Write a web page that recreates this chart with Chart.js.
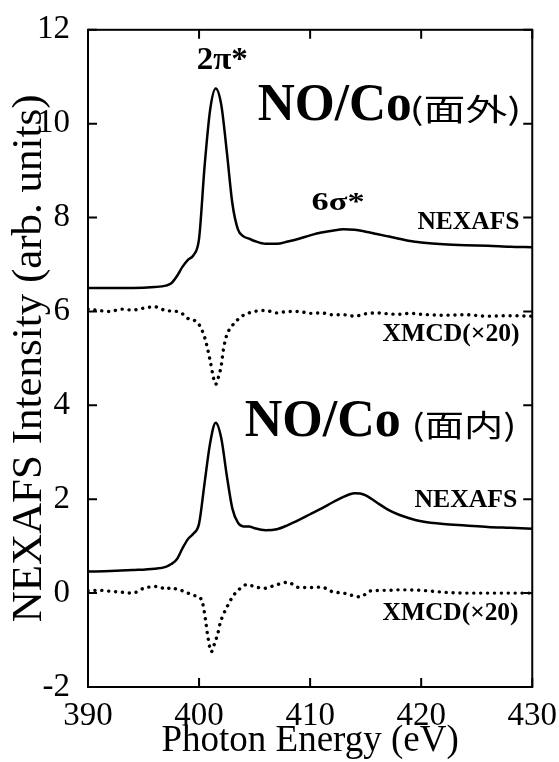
<!DOCTYPE html>
<html>
<head>
<meta charset="utf-8">
<script src="https://cdn.jsdelivr.net/npm/chart.js@4.4.1/dist/chart.umd.min.js"></script>
<style>
  html, body { margin: 0; padding: 0; background: #fff; }
  #wrap { width: 559px; height: 762px; position: relative; }
</style>
</head>
<body>
<div id="wrap"><canvas id="chart"></canvas></div>
<script>
// x tick / y tick labels
const xTicks = [390, 400, 410, 420, 430];
const yTicks = [-2, 0, 2, 4, 6, 8, 10, 12];

// NO/Co 面外 NEXAFS
const outNexafsE = [390, 392, 394, 396, 397, 397.5, 398, 398.5, 399, 399.5, 400, 400.5, 401, 401.5, 402, 402.5, 403, 403.5, 404, 404.5, 405, 406, 407, 408, 409, 410, 411, 412, 413, 414, 415, 416, 417, 418, 419, 420, 422, 424, 426, 428, 430];
const outNexafs = [6.5, 6.5, 6.5, 6.52, 6.55, 6.6, 6.75, 6.95, 7.1, 7.2, 7.55, 9.1, 10.3, 10.75, 10.4, 9.4, 8.3, 7.75, 7.6, 7.55, 7.5, 7.44, 7.44, 7.49, 7.55, 7.62, 7.68, 7.72, 7.75, 7.74, 7.7, 7.65, 7.6, 7.55, 7.5, 7.47, 7.43, 7.41, 7.4, 7.38, 7.37];

// NO/Co 面外 XMCD (x20)
const outXmcdE = [390, 391, 392, 393, 394, 395, 396, 397, 398, 398.5, 399, 399.5, 400, 400.5, 401, 401.3, 401.5, 401.8, 402, 402.2, 402.5, 403, 403.5, 404, 405, 406, 407, 408, 409, 410, 411, 412, 413, 414, 415, 416, 417, 418, 419, 420, 422, 424, 426, 428, 430];
const outXmcd = [6.05, 6.02, 6.0, 6.05, 6.03, 6.07, 6.1, 6.02, 6.0, 5.95, 5.85, 5.82, 5.72, 5.45, 4.95, 4.58, 4.45, 4.65, 4.85, 5.2, 5.5, 5.7, 5.83, 5.92, 6.0, 6.02, 5.97, 6.0, 6.0, 5.96, 5.97, 5.93, 5.93, 5.9, 5.95, 5.97, 5.95, 5.94, 5.96, 5.94, 5.92, 5.93, 5.9, 5.91, 5.9];

// NO/Co 面内 NEXAFS
const inNexafsE = [390, 392, 394, 396, 397, 397.5, 398, 398.5, 399, 399.5, 400, 400.5, 401, 401.5, 402, 402.5, 403, 403.5, 404, 404.5, 405, 406, 407, 408, 409, 410, 411, 412, 413, 413.5, 414, 414.5, 415, 415.5, 416, 417, 418, 419, 420, 422, 424, 426, 428, 430];
const inNexafs = [0.46, 0.47, 0.49, 0.52, 0.56, 0.62, 0.72, 0.95, 1.15, 1.27, 1.48, 2.35, 3.2, 3.63, 3.3, 2.5, 1.8, 1.5, 1.42, 1.42, 1.38, 1.34, 1.36, 1.45, 1.56, 1.68, 1.8, 1.93, 2.05, 2.1, 2.13, 2.12, 2.08, 2.01, 1.93, 1.78, 1.67, 1.59, 1.53, 1.47, 1.44, 1.41, 1.39, 1.37];

// NO/Co 面内 XMCD (x20)
const inXmcdE = [390, 391, 392, 393, 394, 395, 396, 396.5, 397, 397.5, 398, 398.5, 399, 399.5, 400, 400.3, 400.5, 400.8, 401.1, 401.4, 401.7, 401.9, 402.2, 402.5, 403.1, 403.7, 404.3, 405, 405.8, 407, 408, 409, 410, 411, 412, 413, 414.5, 415.5, 417, 418, 420, 422, 424, 426, 428, 430];
const inXmcd = [0.05, 0.06, 0.04, 0.02, 0.0, 0.1, 0.14, 0.13, 0.08, 0.12, 0.08, 0.05, 0.0, -0.05, -0.08, -0.2, -0.44, -0.94, -1.25, -1.07, -0.85, -0.64, -0.45, -0.3, -0.05, 0.1, 0.18, 0.14, 0.1, 0.18, 0.23, 0.12, 0.12, 0.13, 0.03, 0.0, -0.08, 0.05, 0.06, 0.07, 0.06, 0.02, 0.0, 0.0, 0.0, 0.0];

const toPoints = (xs, ys) => xs.map((x, i) => ({ x, y: ys[i] }));

const serif = "'Liberation Serif', 'Times New Roman', serif";
const cjk = "'Noto Sans CJK JP', sans-serif";

const solid = (data) => ({
  data,
  borderColor: "#000",
  borderWidth: 2.5,
  pointRadius: 0,
  cubicInterpolationMode: "monotone",
  fill: false,
});

const dotted = (data) => ({
  data,
  borderColor: "#000",
  borderWidth: 3.4,
  borderDash: [0.1, 6.8],
  borderCapStyle: "round",
  pointRadius: 0,
  cubicInterpolationMode: "monotone",
  fill: false,
});

// labels on the plot: left edge + baseline in data units, w = width in px
const labels = [
  { x: 399.8, y: 11.17, text: "2π*", font: `bold 32px ${serif}`, w: 51 },
  { x: 405.28, y: 10.07, text: "NO/Co", font: `bold 53px ${serif}`, w: 154 },
  { x: 418.94, y: 10.07, text: "(面外)", font: `30px ${cjk}`, w: 112 },
  { x: 410.13, y: 8.16, text: "6σ*", font: `bold 26px ${serif}`, w: 53 },
  { x: 419.66, y: 7.76, text: "NEXAFS", font: `bold 26px ${serif}`, w: 102 },
  { x: 416.52, y: 5.38, text: "XMCD(×20)", font: `bold 26px ${serif}`, w: 137 },
  { x: 404.11, y: 3.345, text: "NO/Co", font: `bold 53px ${serif}`, w: 156 },
  { x: 419.12, y: 3.345, text: "(面内)", font: `30px ${cjk}`, w: 105 },
  { x: 419.39, y: 1.84, text: "NEXAFS", font: `bold 26px ${serif}`, w: 103 },
  { x: 416.52, y: -0.58, text: "XMCD(×20)", font: `bold 26px ${serif}`, w: 136 },
];

const framePlugin = {
  id: "frame",
  afterDraw(chart) {
    const { ctx, chartArea: a, scales } = chart;
    ctx.save();
    ctx.strokeStyle = "#000";
    ctx.lineWidth = 2;
    ctx.strokeRect(a.left, a.top, a.right - a.left, a.bottom - a.top);
    const tl = 9;
    ctx.beginPath();
    yTicks.forEach((v) => {
      const py = scales.y.getPixelForValue(v);
      ctx.moveTo(a.left, py); ctx.lineTo(a.left + tl, py);
      ctx.moveTo(a.right, py); ctx.lineTo(a.right - tl, py);
    });
    xTicks.forEach((v) => {
      const px = scales.x.getPixelForValue(v);
      ctx.moveTo(px, a.bottom); ctx.lineTo(px, a.bottom - tl);
      ctx.moveTo(px, a.top); ctx.lineTo(px, a.top + tl);
    });
    ctx.stroke();

    ctx.fillStyle = "#000";
    ctx.textAlign = "left";
    ctx.textBaseline = "alphabetic";
    labels.forEach((lab) => {
      const px = scales.x.getPixelForValue(lab.x);
      const py = scales.y.getPixelForValue(lab.y);
      ctx.font = lab.font;
      const sx = lab.w / ctx.measureText(lab.text).width;
      ctx.save();
      ctx.translate(px, py);
      ctx.scale(sx, 1);
      ctx.fillText(lab.text, 0, 0);
      ctx.restore();
    });
    ctx.restore();
  },
};

new Chart(document.getElementById("chart"), {
  type: "line",
  data: {
    datasets: [
      solid(toPoints(outNexafsE, outNexafs)),
      dotted(toPoints(outXmcdE, outXmcd)),
      solid(toPoints(inNexafsE, inNexafs)),
      dotted(toPoints(inXmcdE, inXmcd)),
    ],
  },
  options: {
    responsive: true,
    maintainAspectRatio: false,
    animation: false,
    layout: { padding: { top: 28, right: 26, left: 0, bottom: 0 } },
    plugins: { legend: { display: false }, tooltip: { enabled: false } },
    scales: {
      x: {
        type: "linear",
        min: 390,
        max: 430,
        afterBuildTicks: (s) => { s.ticks = xTicks.map((v) => ({ value: v })); },
        afterFit: (s) => { s.height = 75; },
        grid: { display: false },
        border: { display: false },
        ticks: { color: "#000", font: { family: serif, size: 33 }, padding: 2, maxRotation: 0 },
        title: { display: true, text: "Photon Energy (eV)", color: "#000", font: { family: serif, size: 37, lineHeight: 1.1 }, padding: { top: 0, bottom: 0 } },
      },
      y: {
        min: -2,
        max: 12,
        afterBuildTicks: (s) => { s.ticks = yTicks.map((v) => ({ value: v })); },
        afterFit: (s) => { s.width = 88; },
        grid: { display: false },
        border: { display: false },
        ticks: { color: "#000", font: { family: serif, size: 33 }, padding: 10 },
        title: { display: true, text: "NEXAFS Intensity (arb. units)", color: "#000", font: { family: serif, size: 43, lineHeight: 1.1 }, padding: { top: 6, bottom: 0 } },
      },
    },
  },
  plugins: [framePlugin],
});
</script>
</body>
</html>
